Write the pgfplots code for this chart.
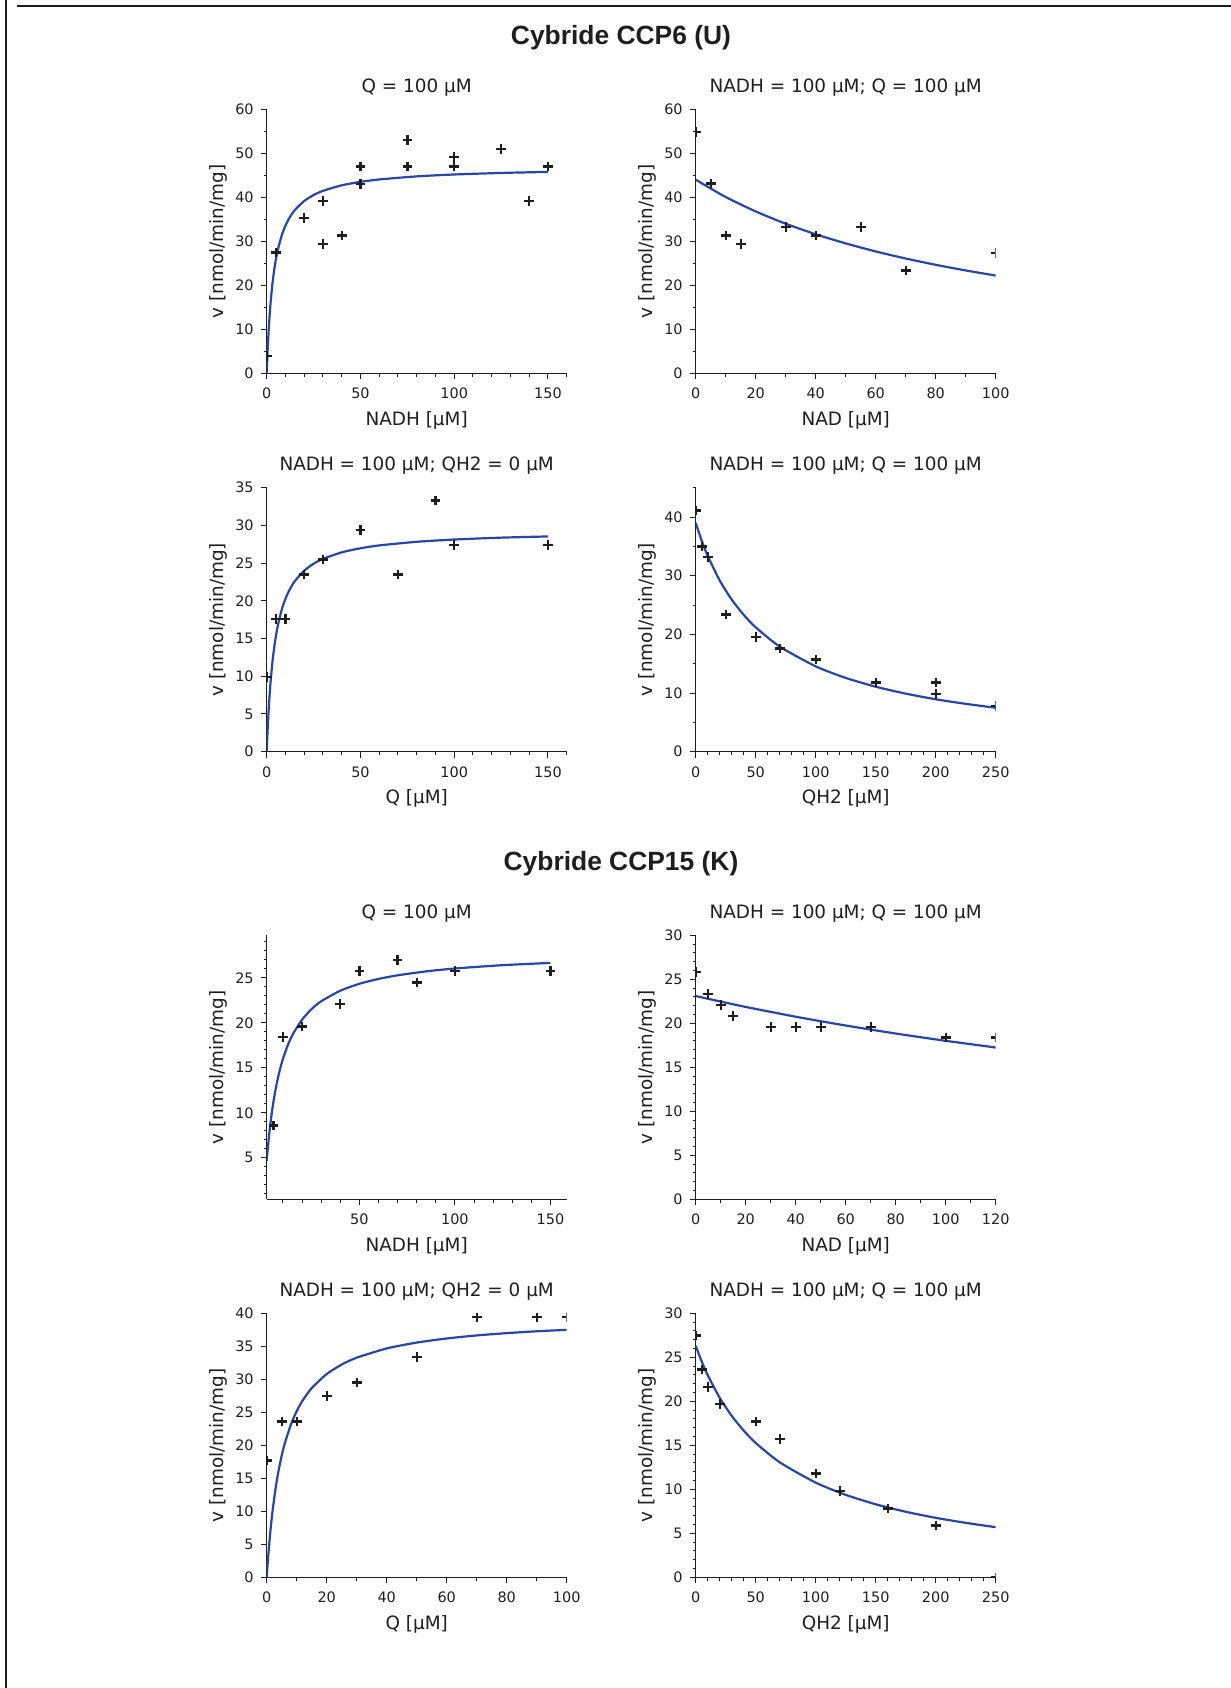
\documentclass[border=0pt]{standalone}
\usepackage{pgfplots}
\pgfplotsset{compat=1.18}
\usepackage{fontspec}
\setmainfont{DejaVu Sans}
\newfontfamily\titlefont{Liberation Sans}
\definecolor{fitblue}{RGB}{40,70,170}
\definecolor{ink}{RGB}{30,30,30}

\pgfplotsset{
  kin/.style={
    scale only axis, width=150pt, height=132pt,
    anchor=south west,
    axis lines=left,
    axis line style={-, line width=0.6pt, ink},
    tick align=outside,
    major tick length=3pt, minor tick length=1.6pt,
    every tick/.style={ink, line width=0.5pt},
    clip marker paths=true,
    /pgf/number format/assume math mode=true,
    ticklabel style={font=\fontsize{7.2}{8}\selectfont, text=ink},
    xticklabel style={yshift=-0.9pt},
    label style={font=\fontsize{9.2}{10}\selectfont, text=ink},
    xlabel style={at={(axis description cs:0.5,-0.198)}, anchor=base},
    ylabel style={at={(axis description cs:-0.16,0.5)}, anchor=center},
    title style={at={(axis description cs:0.5,1.019)}, anchor=base, font=\fontsize{9.2}{10}\selectfont, text=ink},
    ylabel={v [nmol/min/mg]},
  },
  fit/.style={fitblue, line width=1.1pt, no marks, smooth, tension=0.4},
  pts/.style={only marks, mark=+, mark size=2.4pt, mark options={line width=1.2pt, ink}},
}

\begin{document}
\begin{tikzpicture}
\path[use as bounding box] (0,0) rectangle (615.5pt,-844pt);
\draw[line width=1pt, ink] (3pt,0pt) -- (3pt,-844pt);
\draw[line width=1pt, ink] (8.5pt,-2.85pt) -- (615.5pt,-2.85pt);

\node[anchor=base, font=\titlefont\bfseries\fontsize{13.2}{15}\selectfont, text=ink] at (310.5pt,-22pt) {Cybride CCP6 (U)};
\node[anchor=base, font=\titlefont\bfseries\fontsize{13.2}{15}\selectfont, text=ink] at (310.5pt,-435.2pt) {Cybride CCP15 (K)};

% ---------- Panel 1
\begin{axis}[kin, at={(133.35pt,-186.65pt)},
  xmin=0, xmax=160, ymin=0, ymax=60,
  xtick={0,50,100,150}, minor xtick={10,20,30,40,60,70,80,90,110,120,130,140,160},
  ytick={0,10,...,60}, minor ytick={5,15,...,55},
  title={Q = 100 µM}, xlabel={NADH [µM]}]
\addplot[fit] coordinates {(0,0) (0.25,2.76) (0.5,5.22) (1,9.4) (1.5,12.82) (2,15.67) (3,20.14) (4,23.5) (5,26.11) (6,28.2) (8,31.33) (10,33.57) (12,35.25) (15,37.11) (20,39.17) (25,40.52) (30,41.47) (40,42.73) (50,43.52) (60,44.06) (80,44.76) (100,45.19) (125,45.54) (150,45.78)};
\addplot[pts] coordinates {(0,4) (5,27.5) (20,35.3) (30,39.1) (30,29.4) (40,31.3) (50,47) (50,43) (75,53) (75,47) (100,49.2) (100,47) (125,51) (140,39.1) (150,47)};
\end{axis}

% ---------- Panel 2
\begin{axis}[kin, at={(347.85pt,-186.65pt)},
  xmin=0, xmax=100, ymin=0, ymax=60,
  xtick={0,20,...,100}, minor xtick={10,30,...,90},
  ytick={0,10,...,60}, minor ytick={5,15,...,55},
  title={NADH = 100 µM; Q = 100 µM}, xlabel={NAD [µM]}]
\addplot[fit] coordinates {(0,44) (10,40.07) (20,36.79) (30,34.0) (40,31.6) (50,29.53) (60,27.7) (70,26.09) (80,24.66) (90,23.38) (100,22.22)};
\addplot[pts] coordinates {(0,54.8) (5,43.1) (10,31.3) (15,29.4) (30,33.3) (40,31.3) (55,33.3) (70,23.4) (100,27.4)};
\end{axis}

% ---------- Panel 3
\begin{axis}[kin, at={(133.35pt,-375.85pt)},
  xmin=0, xmax=160, ymin=0, ymax=35,
  xtick={0,50,100,150}, minor xtick={10,20,30,40,60,70,80,90,110,120,130,140,160},
  ytick={0,5,...,35},
  title={NADH = 100 µM; QH2 = 0 µM}, xlabel={Q [µM]}]
\addplot[fit] coordinates {(0,0) (0.25,1.55) (0.5,2.94) (1,5.35) (1.5,7.35) (2,9.05) (3,11.76) (4,13.84) (5,15.47) (6,16.8) (8,18.82) (10,20.28) (12,21.38) (15,22.62) (20,24.0) (25,24.92) (30,25.57) (40,26.43) (50,26.97) (60,27.35) (80,27.83) (100,28.13) (125,28.38) (150,28.54)};
\addplot[pts] coordinates {(0,9.9) (5,17.6) (10,17.6) (20,23.5) (30,25.5) (50,29.4) (70,23.5) (90,33.3) (100,27.4) (150,27.4)};
\end{axis}

% ---------- Panel 4
\begin{axis}[kin, at={(347.85pt,-375.85pt)},
  xmin=0, xmax=250, ymin=0, ymax=45,
  xtick={0,50,...,250}, minor xtick={10,20,...,240},
  ytick={0,10,...,40}, minor ytick={5,15,...,45},
  title={NADH = 100 µM; Q = 100 µM}, xlabel={QH2 [µM]}]
\addplot[fit] coordinates {(0,39.0) (5,35.98) (10,33.39) (20,29.19) (30,25.93) (40,23.33) (50,21.2) (70,17.92) (100,14.55) (125,12.58) (150,11.08) (175,9.9) (200,8.94) (225,8.16) (250,7.5)};
\addplot[pts] coordinates {(0,41.1) (5,35.0) (10,33.2) (25,23.4) (50,19.6) (70,17.6) (100,15.7) (150,11.8) (200,11.8) (200,9.8) (250,7.8)};
\end{axis}

% ---------- Panel 5
\begin{axis}[kin, at={(133.35pt,-599.65pt)},
  xmin=1.5, xmax=158.5, ymin=0.38, ymax=29.74,
  xtick={50,100,150}, minor xtick={10,20,...,150},
  ytick={5,10,...,25}, minor ytick={1,2,...,29},
  title={Q = 100 µM}, xlabel={NADH [µM]}]
\addplot[fit] coordinates {(1.5,4.67) (2,5.89) (2.5,7.0) (3,8.0) (4,9.74) (5,11.2) (6,12.44) (7,13.52) (8.5,14.88) (10,16.0) (12.5,17.5) (15,18.67) (20,20.36) (25,21.54) (30,22.4) (40,23.58) (50,24.35) (60,24.89) (70,25.29) (85,25.73) (100,26.05) (125,26.42) (150,26.67)};
\addplot[pts] coordinates {(5,8.6) (10,18.4) (20,19.6) (40,22.1) (50,25.8) (70,27.0) (80,24.5) (100,25.8) (150,25.8)};
\end{axis}

% ---------- Panel 6
\begin{axis}[kin, at={(347.85pt,-599.65pt)},
  xmin=0, xmax=120, ymin=0, ymax=30,
  xtick={0,20,...,120}, minor xtick={10,30,...,110},
  ytick={0,5,...,30}, minor ytick={1,2,...,29},
  title={NADH = 100 µM; Q = 100 µM}, xlabel={NAD [µM]}]
\addplot[fit] coordinates {(0,23.1) (10,22.47) (20,21.86) (30,21.3) (40,20.75) (50,20.24) (60,19.75) (70,19.29) (80,18.84) (90,18.42) (100,18.01) (110,17.63) (120,17.25)};
\addplot[pts] coordinates {(0,25.8) (5,23.3) (10,22.1) (15,20.8) (30,19.6) (40,19.6) (50,19.6) (70,19.6) (100,18.4) (120,18.4)};
\end{axis}

% ---------- Panel 7
\begin{axis}[kin, at={(133.35pt,-788.65pt)},
  xmin=0, xmax=100, ymin=0, ymax=40,
  xtick={0,20,...,100}, minor xtick={10,30,...,90},
  ytick={0,5,...,40},
  title={NADH = 100 µM; QH2 = 0 µM}, xlabel={Q [µM]}]
\addplot[fit] coordinates {(0,0) (0.25,1.65) (0.5,3.17) (1,5.88) (1.5,8.21) (2,10.23) (3,13.6) (4,16.27) (5,18.45) (6,20.25) (8,23.07) (10,25.18) (12,26.81) (15,28.67) (20,30.8) (25,32.24) (30,33.28) (40,34.68) (50,35.57) (60,36.19) (70,36.65) (80,37.0) (90,37.28) (100,37.5)};
\addplot[pts] coordinates {(0,17.7) (5,23.6) (10,23.6) (20,27.5) (30,29.5) (50,33.4) (70,39.4) (90,39.4) (100,39.4)};
\end{axis}

% ---------- Panel 8
\begin{axis}[kin, at={(347.85pt,-788.65pt)},
  xmin=0, xmax=250, ymin=0, ymax=30,
  xtick={0,50,...,250}, minor xtick={10,20,...,240},
  ytick={0,5,...,30}, minor ytick={1,2,...,29},
  title={NADH = 100 µM; Q = 100 µM}, xlabel={QH2 [µM]}]
\addplot[fit] coordinates {(0,26.3) (5,24.53) (10,22.98) (20,20.4) (30,18.35) (40,16.67) (50,15.27) (70,13.07) (100,10.76) (125,9.37) (150,8.30) (175,7.45) (200,6.76) (225,6.19) (250,5.70)};
\addplot[pts] coordinates {(0,27.5) (5,23.6) (10,21.6) (20,19.7) (50,17.7) (70,15.7) (100,11.8) (120,9.8) (160,7.8) (200,5.9) (250,0)};
\end{axis}
\end{tikzpicture}
\end{document}
